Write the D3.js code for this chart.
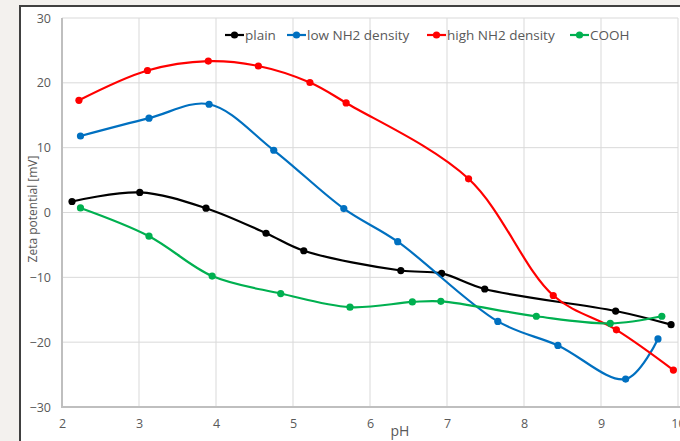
<!DOCTYPE html>
<html><head><meta charset="utf-8">
<script src="https://cdn.jsdelivr.net/npm/d3@7"></script>
<style>body{margin:0;background:#f3f1ee;}svg{display:block;}</style>
</head><body>
<svg id="c" width="680" height="441"></svg>
<script>
const xTicks = [2,3,4,5,6,7,8,9,10];
const yTicks = [-30,-20,-10,0,10,20,30];
const seriesNames = ["plain","low NH2 density","high NH2 density","COOH"];
const seriesColors = ["#000000","#0070C0","#FF0000","#00B050"];
const plainX = [2.13,3.01,3.87,4.65,5.14,6.40,6.93,7.49,9.19,9.91];
const plainY = [1.7,3.1,0.66,-3.2,-5.9,-8.95,-9.4,-11.8,-15.2,-17.3];
const lowX = [2.24,3.13,3.91,4.75,5.66,6.36,7.66,8.44,9.32,9.74];
const lowY = [11.8,14.55,16.7,9.6,0.6,-4.5,-16.8,-20.5,-25.7,-19.5];
const highX = [2.22,3.11,3.90,4.55,5.22,5.69,7.28,8.38,9.20,9.94];
const highY = [17.3,21.9,23.35,22.6,20.05,16.9,5.2,-12.8,-18.1,-24.3];
const coohX = [2.24,3.13,3.95,4.84,5.74,6.55,6.92,8.16,9.12,9.79];
const coohY = [0.7,-3.65,-9.8,-12.5,-14.6,-13.8,-13.7,-16.0,-17.1,-16.0];

const FONT = "'Open Sans', 'Liberation Sans', Arial, sans-serif";
const svg = d3.select("#c");
svg.append("rect").attr("x",0).attr("y",0).attr("width",680).attr("height",441).attr("fill","#f3f1ee");
svg.append("rect").attr("x",20).attr("y",6).attr("width",670).attr("height",440).attr("fill","#ffffff");
svg.append("line").attr("x1",20).attr("x2",20).attr("y1",5).attr("y2",441).attr("stroke","#404040").attr("stroke-width",2);
svg.append("line").attr("x1",19).attr("x2",680).attr("y1",6).attr("y2",6).attr("stroke","#404040").attr("stroke-width",2);

const x = d3.scaleLinear().domain([2,10]).range([62,678]);
const y = d3.scaleLinear().domain([-30,30]).range([407,18]);

const g = svg.append("g");
g.selectAll(".vg").data(xTicks.slice(1)).enter().append("line")
  .attr("x1",d=>x(d)).attr("x2",d=>x(d)).attr("y1",y(30)).attr("y2",y(-30))
  .attr("stroke","#d9d9d9").attr("stroke-width",1);
g.selectAll(".hg").data(yTicks.slice(1)).enter().append("line")
  .attr("x1",x(2)).attr("x2",x(10)).attr("y1",d=>y(d)).attr("y2",d=>y(d))
  .attr("stroke","#d9d9d9").attr("stroke-width",1);
svg.append("line").attr("x1",x(2)).attr("x2",x(2)).attr("y1",y(30)).attr("y2",y(-30)).attr("stroke","#bfbfbf").attr("stroke-width",2);
svg.append("line").attr("x1",x(2)-1).attr("x2",x(10)+2).attr("y1",y(-30)).attr("y2",y(-30)).attr("stroke","#bfbfbf").attr("stroke-width",2);

const ax = svg.append("g").attr("transform",`translate(0,${y(-30)})`)
  .call(d3.axisBottom(x).tickValues(xTicks).tickSize(0).tickPadding(12).tickFormat(d3.format("d")));
const ay = svg.append("g").attr("transform",`translate(${x(2)},0)`)
  .call(d3.axisLeft(y).tickValues(yTicks).tickSize(0).tickPadding(11).tickFormat(d3.format("d")));
[ax,ay].forEach(a=>{a.select(".domain").remove();
  a.selectAll("text").attr("fill","#595959").style("font-family",FONT).style("font-size","12.5px");});

svg.append("text").attr("x",400).attr("y",436).attr("text-anchor","middle")
  .attr("fill","#595959").style("font-family",FONT).style("font-size","14px").text("pH");
svg.append("text").attr("transform","translate(37,209) rotate(-90)").attr("text-anchor","middle")
  .attr("fill","#595959").style("font-family",FONT).style("font-size","12px").text("Zeta potential [mV]");

const data = [
  plainX.map((v,i)=>[v,plainY[i]]),
  lowX.map((v,i)=>[v,lowY[i]]),
  highX.map((v,i)=>[v,highY[i]]),
  coohX.map((v,i)=>[v,coohY[i]])
];
const line = d3.line().x(d=>x(d[0])).y(d=>y(d[1])).curve(d3.curveCatmullRom.alpha(0.5));
data.forEach((s,i)=>{
  svg.append("path").attr("d",line(s)).attr("fill","none").attr("stroke",seriesColors[i]).attr("stroke-width",2.2);
  svg.selectAll(null).data(s).enter().append("circle")
    .attr("cx",d=>x(d[0])).attr("cy",d=>y(d[1])).attr("r",3.6).attr("fill",seriesColors[i]);
});

const legX = [225,287,427,570];
const lg = svg.append("g");
seriesNames.forEach((n,i)=>{
  const lx = legX[i], ly = 35;
  lg.append("line").attr("x1",lx).attr("x2",lx+19).attr("y1",ly).attr("y2",ly).attr("stroke",seriesColors[i]).attr("stroke-width",2.2);
  lg.append("circle").attr("cx",lx+9.5).attr("cy",ly).attr("r",3.6).attr("fill",seriesColors[i]);
  lg.append("text").attr("x",lx+20).attr("y",ly+5).attr("fill","#595959")
    .style("font-family",FONT).style("font-size","13.5px").text(n);
});
</script>
</body></html>
